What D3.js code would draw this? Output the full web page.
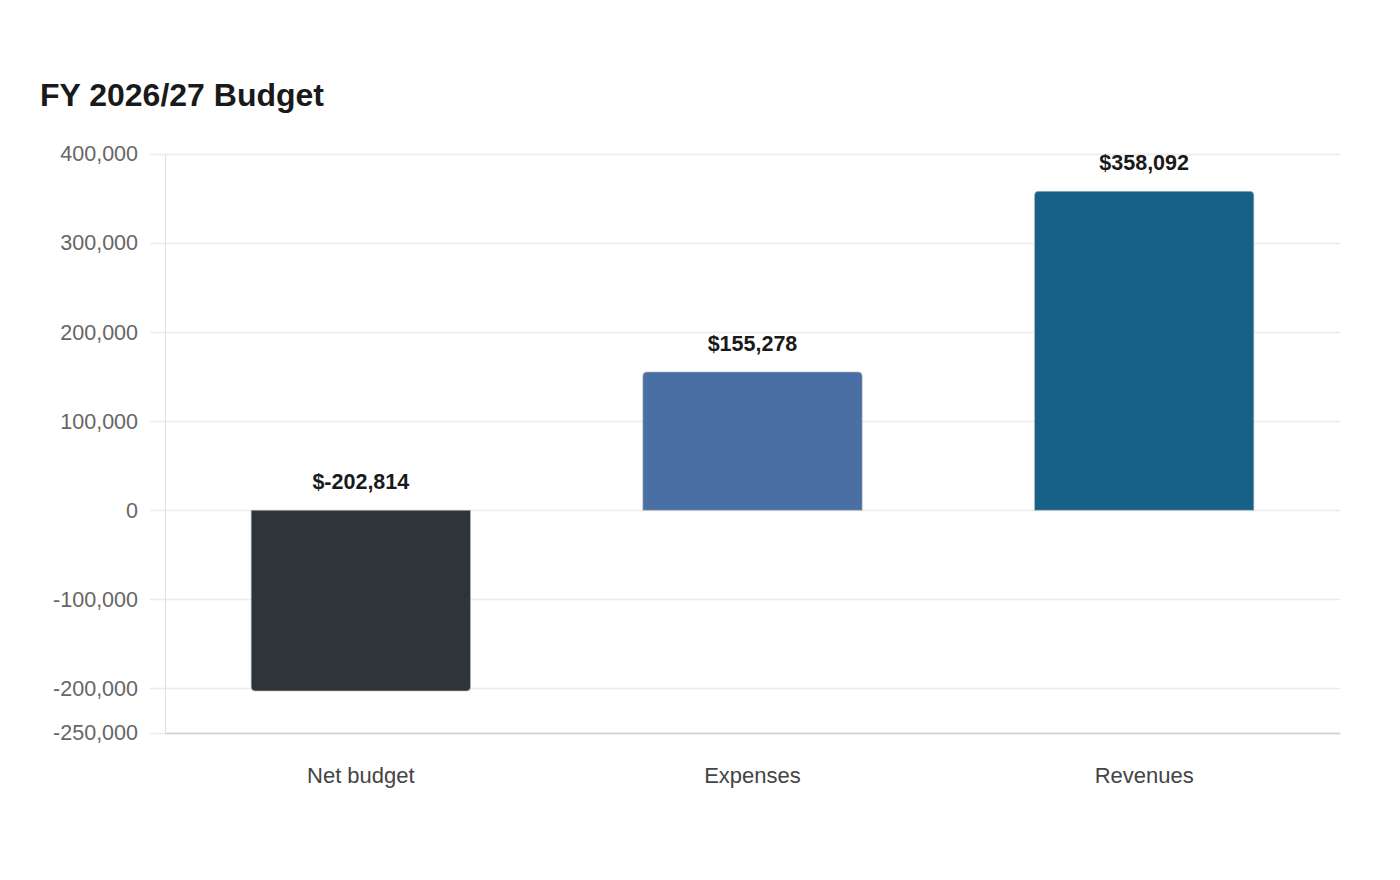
<!DOCTYPE html>
<html lang="en">
<head>
<meta charset="UTF-8">
<title>FY 2026/27 Budget</title>
<script src="https://cdn.jsdelivr.net/npm/d3@7"></script>
<style>
  body { margin: 0; background: #fff; font-family: "Liberation Sans", Arial, sans-serif; }
</style>
</head>
<body>
<div id="chart"></div>
<script>
    var categories = ["Net budget", "Expenses", "Revenues"];
    var values = [-202814, 155278, 358092];
    var barColors = ["#2e3538", "#4a6fa5", "#176087"];
    var yTicks = [400000, 300000, 200000, 100000, 0, -100000, -200000, -250000];

    var width = 1400, height = 880;
    var margin = {top: 154, right: 60, bottom: 147, left: 165};

    var fmt = d3.format(",");
    function num(d) { return fmt(d).replace("\u2212", "-"); }

    var svg = d3.select("#chart").append("svg")
        .attr("width", width)
        .attr("height", height);

    svg.append("text")
        .attr("x", 40)
        .attr("y", 106)
        .attr("font-size", 32)
        .attr("font-weight", "bold")
        .attr("fill", "#1a1a1a")
        .text("FY 2026/27 Budget");

    var x = d3.scaleBand()
        .domain(categories)
        .range([margin.left, width - margin.right])
        .paddingInner(0.44)
        .paddingOuter(0.22);

    var y = d3.scaleLinear()
        .domain([-250000, 400000])
        .range([height - margin.bottom, margin.top]);

    // grid
    svg.append("g").selectAll("line")
        .data(yTicks)
        .enter().append("line")
        .attr("x1", 150)
        .attr("x2", width - margin.right)
        .attr("y1", function(d){ return Math.round(y(d)) + 0.5; })
        .attr("y2", function(d){ return Math.round(y(d)) + 0.5; })
        .attr("stroke", "#ebebeb")
        .attr("stroke-width", 1.5);

    var yAxis = svg.append("g")
        .attr("transform", "translate(" + margin.left + ",0)")
        .call(d3.axisLeft(y).tickValues(yTicks).tickSize(0).tickPadding(27)
            .tickFormat(num));
    yAxis.attr("font-family", "Liberation Sans, Arial, sans-serif").attr("font-size", 21.5);
    yAxis.select(".domain").attr("stroke", "#e0e0e0");
    yAxis.selectAll("text").attr("fill", "#666");

    var xAxis = svg.append("g")
        .attr("transform", "translate(0," + (height - margin.bottom) + ")")
        .call(d3.axisBottom(x).tickSize(0).tickPadding(34));
    xAxis.attr("font-family", "Liberation Sans, Arial, sans-serif").attr("font-size", 22);
    xAxis.select(".domain").attr("stroke", "#cfcfcf").attr("stroke-width", 1.5);
    xAxis.selectAll("text").attr("fill", "#444");

    // bar path with rounded far end
    function barPath(d, i) {
        var x0 = x(categories[i]), w = x.bandwidth();
        var y0 = y(0), y1 = y(d), r = 4;
        var s = d >= 0 ? 1 : -1;
        return "M" + x0 + "," + y0 + "V" + (y1 + s * r) +
            "Q" + x0 + "," + y1 + " " + (x0 + r) + "," + y1 +
            "H" + (x0 + w - r) +
            "Q" + (x0 + w) + "," + y1 + " " + (x0 + w) + "," + (y1 + s * r) +
            "V" + y0 + "Z";
    }

    svg.append("g").selectAll("path")
        .data(values)
        .enter().append("path")
        .attr("d", barPath)
        .attr("fill", function(d, i){ return barColors[i]; })
        .attr("stroke", "#bbb")
        .attr("stroke-width", 0.6);

    svg.append("g").selectAll("text")
        .data(values)
        .enter().append("text")
        .attr("x", function(d, i){ return x(categories[i]) + x.bandwidth() / 2; })
        .attr("y", function(d){ return y(Math.max(d, 0)) - 21; })
        .attr("text-anchor", "middle")
        .attr("font-size", 21.5)
        .attr("font-weight", "bold")
        .attr("fill", "#1a1a1a")
        .text(function(d){ return "$" + num(d); });
</script>
</body>
</html>
